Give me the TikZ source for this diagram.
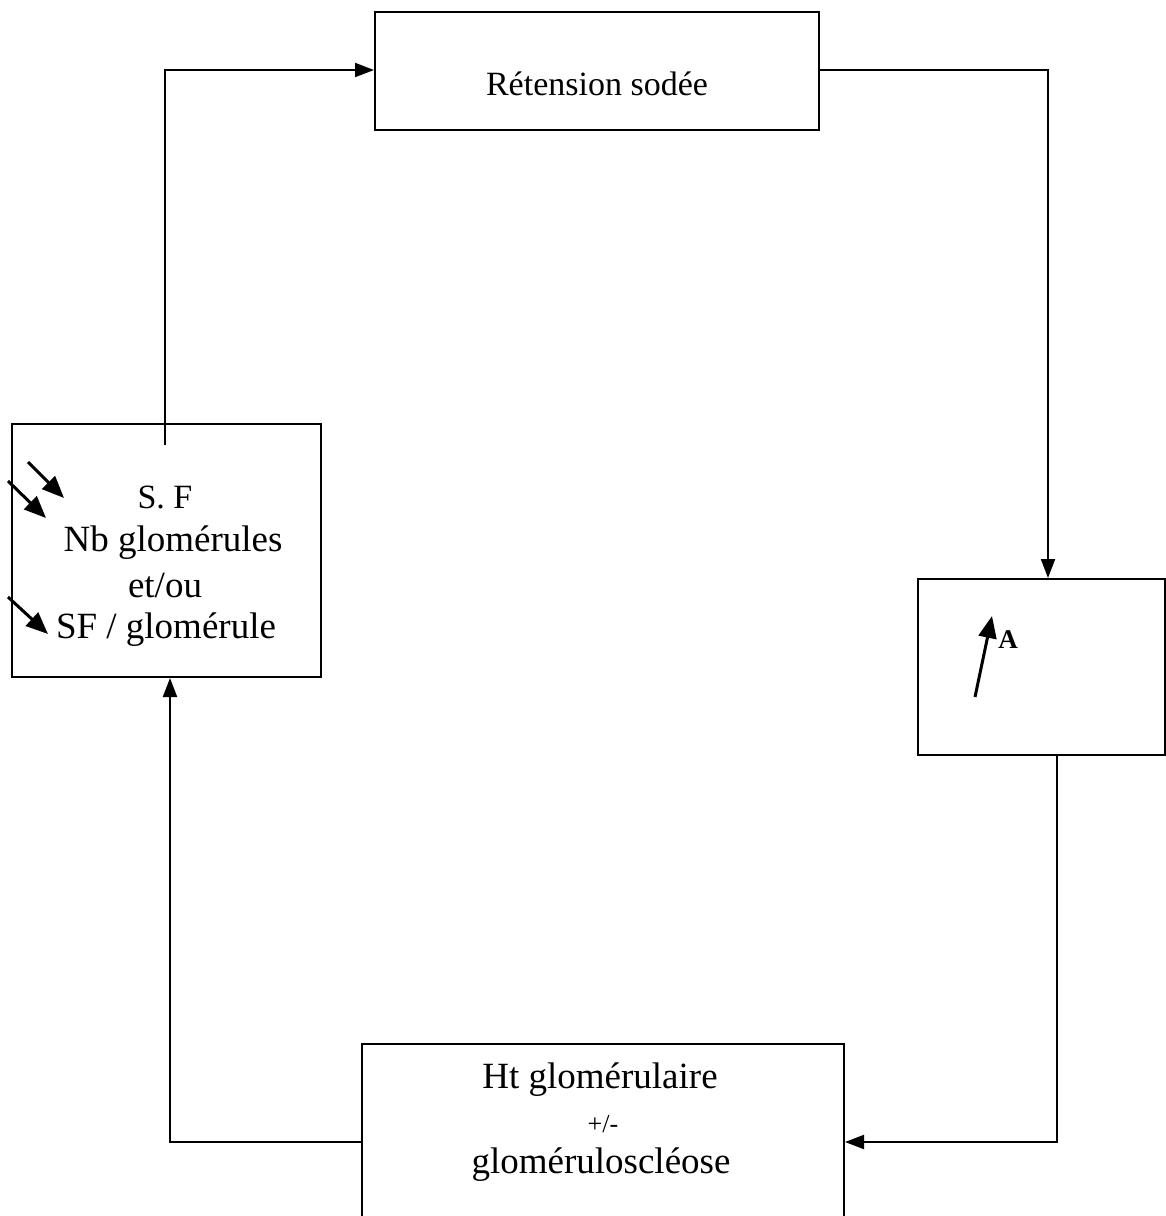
\documentclass[tikz,border=0pt]{standalone}
\usepackage{fontspec}
\setmainfont{Liberation Serif}
\usetikzlibrary{arrows.meta}
\begin{document}
\begin{tikzpicture}[x=1pt,y=-1pt,
  box/.style={draw,line width=2pt,inner sep=0pt,anchor=north west},
  conn/.style={line width=2pt,-{Triangle[length=19pt,width=14pt]}},
  big/.style={font=\fontsize{37}{44}\selectfont},
  small/.style={font=\fontsize{34}{40}\selectfont},
  tiny/.style={font=\fontsize{26}{30}\selectfont},
  thick arrow/.style={line width=3pt,-{Triangle[length=22pt,width=18pt]}}
]
\useasboundingbox (0,0) rectangle (1166,1216);
\clip (0,0) rectangle (1166,1216);
\fill[white] (0,0) rectangle (1166,1216);
% boxes
\node[box,minimum width=444pt,minimum height=118pt] (top) at (374,11) {};
\node[box,minimum width=309pt,minimum height=253pt] (left) at (11,423) {};
\node[box,minimum width=247pt,minimum height=176pt] (right) at (917,578) {};
\node[box,minimum width=482pt,minimum height=200pt] (bottom) at (361,1043) {};
% texts
\node[font=\fontsize{34}{40}\selectfont] (ttop) at (597,84) {Rétension sodée};
\node[small] (t1) at (165,497) {S. F};
\node[big] (t2) at (173,543) {Nb glomérules};
\node[big] (t3) at (165,585) {et/ou};
\node[big] (t4) at (166,630) {SF / glomérule};
\node[font=\bfseries\fontsize{27}{30}\selectfont] (tA) at (1008,640) {A};
\node[big] (b1) at (600,1080) {Ht glomérulaire};
\node[tiny] (b2) at (603,1124) {+/-};
\node[big] (b3) at (601,1165) {gloméruloscléose};
% small arrows
\coordinate (a1s) at (28,462); \coordinate (a1e) at (64,498);
\coordinate (a2s) at (8,481);  \coordinate (a2e) at (46,518);
\coordinate (a3s) at (8,597);  \coordinate (a3e) at (48,634);
\coordinate (a4s) at (975,697); \coordinate (a4e) at (992,616);
\draw[thick arrow] (a1s) -- (a1e);
\draw[thick arrow] (a2s) -- (a2e);
\draw[thick arrow] (a3s) -- (a3e);
\draw[thick arrow] (a4s) -- (a4e);
% connectors
\coordinate (c1) at (165,445);
\draw[conn] (c1) |- (top.west |- 0,70);
\draw[conn] (top.east |- 0,70) -| (right.north -| 1048,0);
\draw[conn] (right.south -| 1057,0) |- (bottom.east |- 0,1142);
\draw[conn] (bottom.west |- 0,1142) -| (left.south -| 170,0);
\end{tikzpicture}
\end{document}
